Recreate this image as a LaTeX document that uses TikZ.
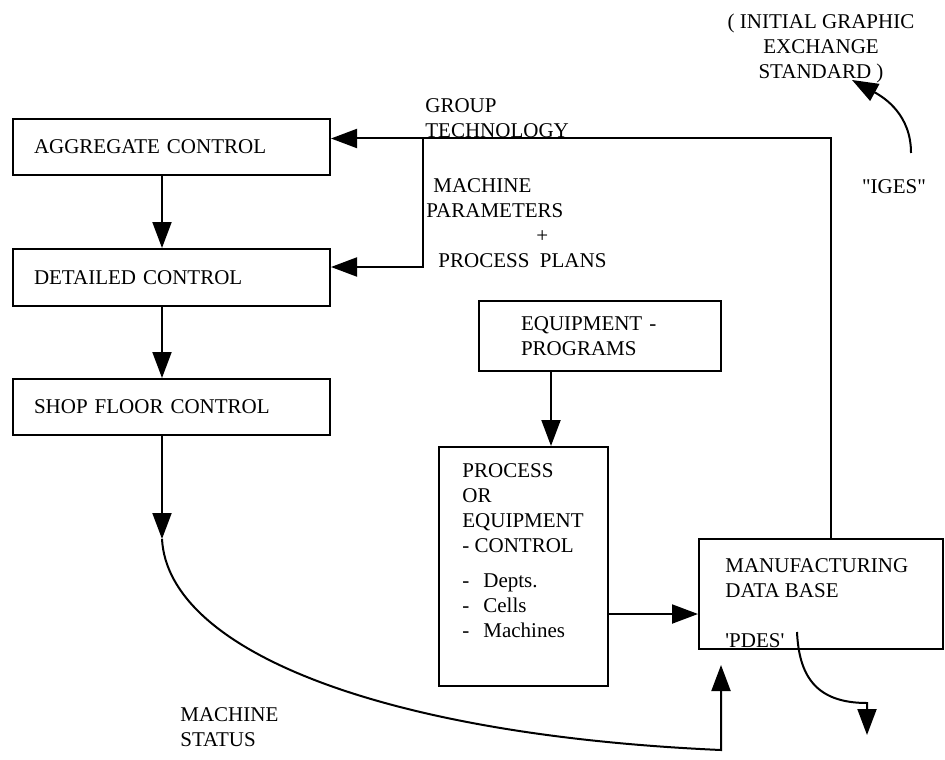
\documentclass[tikz,border=0pt]{standalone}
\usepackage{fontspec}
\setmainfont{Liberation Serif}
\usetikzlibrary{positioning,arrows.meta}

\begin{document}
\begin{tikzpicture}[x=0.5pt, y=-0.5pt, node distance=36pt,
	font=\fontsize{10.5}{12.5}\selectfont,
	main/.style={draw, rectangle, line width=1pt, inner xsep=10.5pt, align=left},
	wide/.style={main, text width=137.5pt, minimum height=28pt},
	note/.style={inner sep=0pt, anchor=north west, align=left},
	flow/.style={line width=1pt, -{Triangle[length=13pt, width=9.5pt]}}]
	\useasboundingbox (0,0) rectangle (945,759);
	% control levels
	\node[wide, anchor=north west] (1) at (12,118) {AGGREGATE CONTROL};
	\node[wide, minimum height=28.5pt] (2) [below=of 1] {DETAILED CONTROL};
	\node[wide] (3) [below=35.5pt of 2] {SHOP FLOOR CONTROL};
	\node[main, anchor=north west, text width=79pt, inner xsep=21pt, minimum height=35pt] (4) at (478,300) {EQUIPMENT -\\PROGRAMS};
	\node[main, anchor=north west, minimum width=84.5pt, minimum height=119.5pt] (5) at (438,446) {};
	\node[main, anchor=north west, minimum width=122pt, minimum height=55pt] (6) at (698,538) {};
	% texts
	\node[note] (5t) at (462,463) {PROCESS\\OR\\EQUIPMENT\\- CONTROL\\[5pt]-\hspace{7pt}Depts.\\-\hspace{7pt}Cells\\-\hspace{7pt}Machines};
	\node[note] (6t) at (725,558) {MANUFACTURING\\DATA BASE\\[12.5pt]\textquotesingle PDES\textquotesingle};
	\node[note] (gt) at (425,98) {GROUP\\TECHNOLOGY};
	\node[note] (mp) at (426,178) {\hspace*{3.5pt}MACHINE\\PARAMETERS\\\hspace*{55pt}+\\\hspace*{6pt}PROCESS\enspace PLANS};
	\node[note, anchor=north, align=center] (ig) at (821,14) {( INITIAL GRAPHIC\\EXCHANGE\\STANDARD )};
	\node[note, anchor=north] (iges) at (894,179) {\textquotedbl IGES\textquotedbl};
	\node[note] (ms) at (180,707) {MACHINE\\STATUS};
	% free ends
	\coordinate (br) at (423,137.5);
	\coordinate (ms1) at ([xshift=-4.75pt, yshift=-51.5pt]3.south);
	\coordinate (ms2) at (721,750);
	\coordinate (ms3) at (721,665);
	\coordinate (pd1) at (797,632);
	\coordinate (pd2) at (867,703);
	\coordinate (pd3) at (867,735);
	\coordinate (ig1) at (911,153);
	\coordinate (ig2) at (852,80);
	% connectors
	\draw[flow] ([xshift=-4.75pt]1.south) -- ([xshift=-4.75pt]2.north);
	\draw[flow] ([xshift=-4.75pt]2.south) -- ([xshift=-4.75pt]3.north);
	\draw[flow] ([xshift=-4.75pt]3.south) -- (ms1);
	\draw[flow] (ms1) .. controls (168,650) and (380,735) .. (ms2) -- (ms3);
	\draw[flow] ([xshift=5pt]6.north) |- ([yshift=4.25pt]1.east);
	\draw[flow] (br) |- ([yshift=5.25pt]2.east);
	\draw[flow] ([xshift=-24.5pt]4.south) -- ([xshift=-24.5pt]4.south |- 5.north);
	\draw[flow] ([yshift=-23.75pt]5.east) -- ([yshift=-23.75pt]5.east -| 6.west);
	\draw[flow] (pd1) .. controls (799,675) and (815,703) .. (pd2) -- (pd3);
	\draw[flow] (ig1) .. controls (911,115) and (885,98) .. (ig2);
\end{tikzpicture}
\end{document}
